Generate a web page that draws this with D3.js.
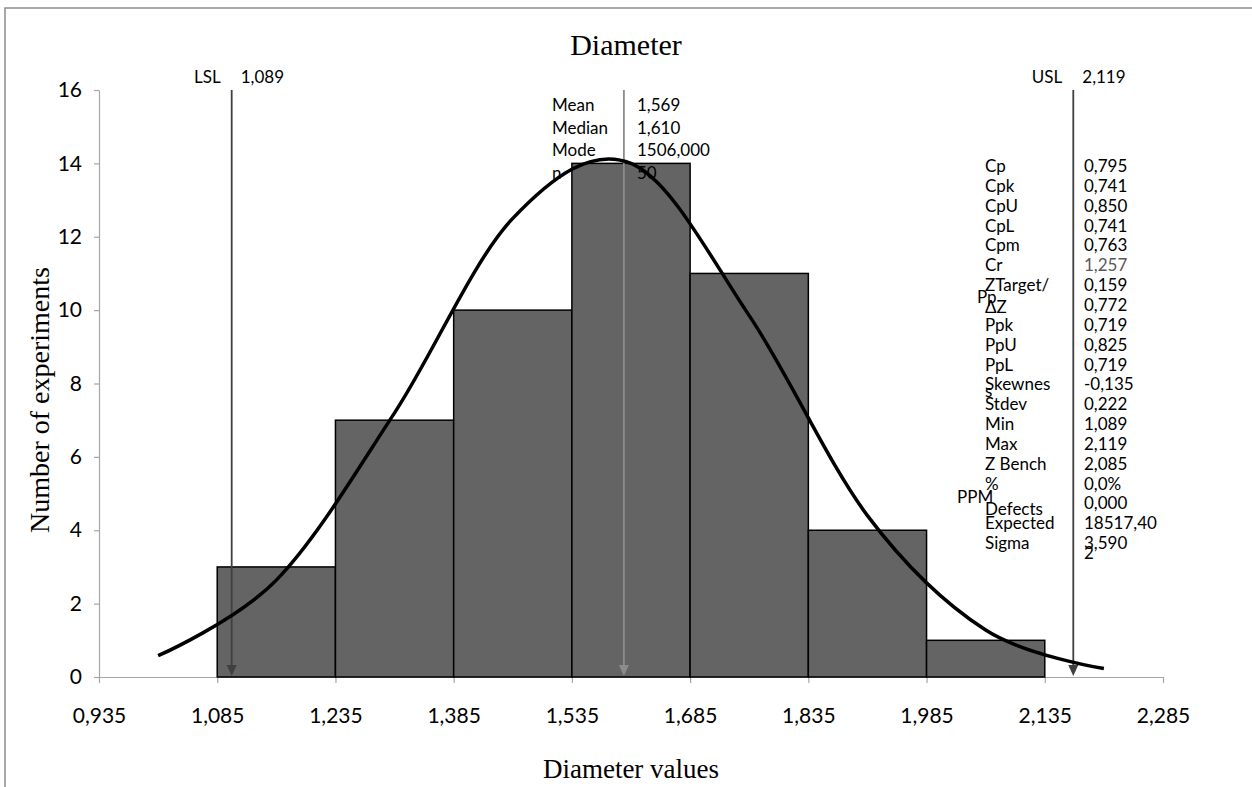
<!DOCTYPE html>
<html>
<head>
<meta charset="utf-8">
<script src="https://cdn.jsdelivr.net/npm/d3@7"></script>
<style>
body { margin: 0; background: #fff; }
text { font-family: Lato, "Open Sans", sans-serif; fill: #000; }
.serif { font-family: "Liberation Serif", "Times New Roman", serif; }
</style>
</head>
<body>
<svg id="chart" width="1252" height="787"></svg>
<script>
// histogram bins and counts
var binEdges = [1.085, 1.235, 1.385, 1.535, 1.685, 1.835, 1.985, 2.135];
var binCounts = [3, 7, 10, 14, 11, 4, 1];

// fitted curve, read at the bin centres
var curveX = [1.010, 1.160, 1.310, 1.460, 1.610, 1.760, 1.910, 2.060, 2.210];
var curveY = [0.58, 2.64, 7.2, 12.5, 14.0, 9.85, 4.4, 1.28, 0.23];

var xTicks = [0.935, 1.085, 1.235, 1.385, 1.535, 1.685, 1.835, 1.985, 2.135, 2.285];
var yTicks = [0, 2, 4, 6, 8, 10, 12, 14, 16];

// spec limits and mean (drawn on their own x scale, like the source)
var limitNames = ["LSL", "USL"];
var limitValues = [1.089, 2.119];
var meanValue = 1.569;

var summaryLabels = ["Mean", "Median", "Mode", "n"];
var summaryValues = ["1,569", "1,610", "1506,000", "50"];

var statLabels = ["Cp", "Cpk", "CpU", "CpL", "Cpm", "Cr", "ZTarget/", "Pp", "Ppk", "PpU", "PpL",
  "Skewnes", "Stdev", "Min", "Max", "Z Bench", "%", "PPM", "Expected", "Sigma"];
var statValues = ["0,795", "0,741", "0,850", "0,741", "0,763", "1,257", "0,159", "0,772", "0,719",
  "0,825", "0,719", "-0,135", "0,222", "1,089", "2,119", "2,085", "0,0%", "0,000", "18517,40", "3,590"];
// wrapped tails of the cells above
var spillText = ["ΔZ", "s", "Defects"];
var spillRow = [6, 11, 16];
var sigmaTail = "2";

var svg = d3.select("#chart"),
    margin = {top: 90, right: 89, bottom: 110, left: 99},
    width = +svg.attr("width") - margin.left - margin.right,
    height = +svg.attr("height") - margin.top - margin.bottom;

var loc = d3.formatLocale({decimal: ",", thousands: ".", grouping: [3], currency: ["", ""]});
var fmt3 = loc.format(".3f");

// outer frame
svg.append("rect")
    .attr("x", 5).attr("y", 8)
    .attr("width", 1300).attr("height", 900)
    .attr("fill", "none").attr("stroke", "#8c8c8c").attr("stroke-width", 1.5);

var x = d3.scaleLinear().domain([0.935, 2.285]).range([0, width]);
var xRef = d3.scaleLinear().domain([0.9266, 2.2288]).range([0, width]);
var y = d3.scaleLinear().domain([0, 16]).range([height, 0]);

var g = svg.append("g")
    .attr("transform", "translate(" + margin.left + "," + margin.top + ")");

// axes
var yAxis = g.append("g")
    .attr("class", "y axis")
    .call(d3.axisLeft(y).tickValues(yTicks).tickSize(5).tickSizeOuter(0).tickPadding(12));
yAxis.selectAll("text").style("font-size", "21px").style("font-family", "Lato");

var xAxis = g.append("g")
    .attr("class", "x axis")
    .attr("transform", "translate(0," + height + ")")
    .call(d3.axisBottom(x).tickValues(xTicks).tickSize(6).tickSizeOuter(0).tickPadding(25).tickFormat(fmt3));
xAxis.selectAll("text").style("font-size", "21px").style("font-family", "Lato");

svg.selectAll(".axis path, .axis line").attr("stroke", "#a6a6a6").attr("stroke-width", 1.2);

// bars
var bins = binCounts.map(function(c, i) { return {x0: binEdges[i], x1: binEdges[i + 1], count: c}; });
g.selectAll(".bar")
    .data(bins)
  .enter().append("rect")
    .attr("class", "bar")
    .attr("x", function(d) { return x(d.x0); })
    .attr("width", function(d) { return x(d.x1) - x(d.x0); })
    .attr("y", function(d) { return y(d.count); })
    .attr("height", function(d) { return y(0) - y(d.count); })
    .attr("fill", "#646464")
    .attr("stroke", "#000")
    .attr("stroke-width", 1.5);

// reference lines with arrow heads
function refLine(v, colour) {
  var px = xRef(v);
  g.append("line")
      .attr("x1", px).attr("x2", px)
      .attr("y1", y(16)).attr("y2", y(0) - 8)
      .attr("stroke", colour).attr("stroke-width", 1.8);
  g.append("path")
      .attr("d", "M" + (px - 5) + "," + (y(0) - 12) + "L" + (px + 5) + "," + (y(0) - 12) + "L" + px + "," + (y(0) - 1) + "Z")
      .attr("fill", colour);
}
refLine(meanValue, "#8c8c8c");
limitValues.forEach(function(v) { refLine(v, "#404040"); });

// fitted curve
var pts = curveX.map(function(v, i) { return [v, curveY[i]]; });
g.append("path")
    .datum(pts)
    .attr("fill", "none")
    .attr("stroke", "#000")
    .attr("stroke-width", 3.5)
    .attr("d", d3.line()
        .x(function(d) { return x(d[0]); })
        .y(function(d) { return y(d[1]); })
        .curve(d3.curveCardinal.tension(0)));

// limit labels
limitValues.forEach(function(v, i) {
  var px = margin.left + xRef(v);
  svg.append("text").attr("x", px - 11).attr("y", 83)
      .attr("text-anchor", "end").style("font-size", "17px").text(limitNames[i]);
  svg.append("text").attr("x", px + 9).attr("y", 83)
      .style("font-size", "17px").text(fmt3(v));
});

// summary block near the mean
summaryLabels.forEach(function(t, i) {
  var yy = 111 + i * 22.6;
  svg.append("text").attr("x", 552).attr("y", yy).style("font-size", "17px").text(t);
  svg.append("text").attr("x", 637).attr("y", yy).style("font-size", "17px").text(summaryValues[i]);
});

// capability table on the right
var rowY = function(r) { return 172 + r * 19.85; };
statLabels.forEach(function(t, i) {
  var lx = 985, ly = rowY(i);
  if (t === "Pp") { lx = 977; ly = rowY(6.6); }
  if (t === "PPM") { lx = 957; ly = rowY(16.65); }
  svg.append("text").attr("x", lx).attr("y", ly).style("font-size", "17px").text(t);
  svg.append("text").attr("x", 1084).attr("y", rowY(i))
      .style("font-size", "17px")
      .style("fill", t === "Cr" ? "#595959" : "#000")
      .text(statValues[i]);
});
spillText.forEach(function(t, i) {
  var extra = t === "s" ? 0.35 : (t === "Defects" ? 1.3 : 1.1);
  svg.append("text").attr("x", 985).attr("y", rowY(spillRow[i] + extra))
      .style("font-size", "17px").text(t);
});
svg.append("text").attr("x", 1084).attr("y", rowY(19.5)).style("font-size", "17px").text(sigmaTail);

// titles
svg.append("text").attr("class", "serif")
    .attr("x", 626).attr("y", 55)
    .attr("text-anchor", "middle").style("font-size", "30px").text("Diameter");

svg.append("text").attr("class", "serif")
    .attr("x", margin.left + width / 2).attr("y", 778)
    .attr("text-anchor", "middle").style("font-size", "27px").text("Diameter values");

svg.append("text").attr("class", "serif")
    .attr("transform", "translate(49,400) rotate(-90)")
    .attr("text-anchor", "middle").style("font-size", "28px").text("Number of experiments");
</script>
</body>
</html>
